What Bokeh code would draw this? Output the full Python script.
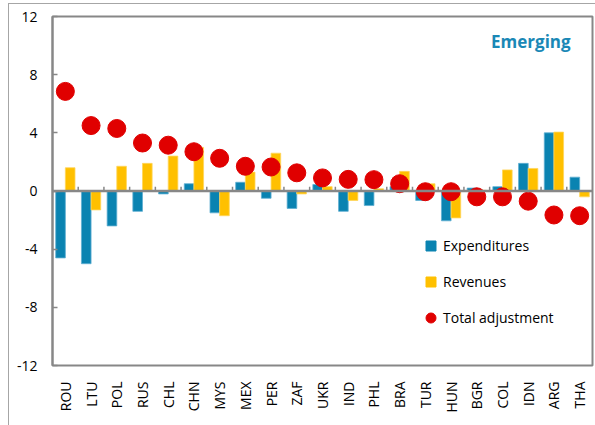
import math
from bokeh.plotting import figure
from bokeh.models import (ColumnDataSource, Span, Label, Legend, LegendItem,
                          FixedTicker, Range1d)
from bokeh.embed import file_html
from bokeh.resources import INLINE

categories = ["ROU", "LTU", "POL", "RUS", "CHL", "CHN", "MYS", "MEX", "PER", "ZAF",
              "UKR", "IND", "PHL", "BRA", "TUR", "HUN", "BGR", "COL", "IDN", "ARG", "THA"]
expenditures = [-4.6, -5.0, -2.4, -1.4, -0.2, 0.5, -1.5, 0.6, -0.5, -1.2,
                0.45, -1.4, -1.0, 0.3, -0.65, -2.05, 0.2, 0.3, 1.9, 4.0, 0.95]
revenues = [1.6, -1.3, 1.7, 1.9, 2.4, 3.0, -1.7, 1.3, 2.6, -0.2,
            0.3, -0.65, 0.15, 1.35, 0.5, -1.85, 0.05, 1.45, 1.55, 4.05, -0.4]
total_adjustment = [6.85, 4.5, 4.3, 3.3, 3.15, 2.7, 2.25, 1.7, 1.65, 1.25,
                    0.9, 0.8, 0.78, 0.5, -0.05, -0.05, -0.4, -0.4, -0.7, -1.65, -1.7]
y_ticks = [-12, -8, -4, 0, 4, 8, 12]
panel_title = "Emerging"

BLUE = "#0A83B1"
YELLOW = "#FFC000"
RED = "#E00000"
GRAY = "#878787"
FONT = "Open Sans"
NAN = float("nan")

n = len(categories)
idx = list(range(n))
bw = 0.375
src = ColumnDataSource(dict(
    x=idx,
    xe=[i - bw / 2 for i in idx],
    xr=[i + bw / 2 for i in idx],
    exp=expenditures, rev=revenues, tot=total_adjustment,
))

p = figure(width=595, height=425, output_backend="svg", toolbar_location=None,
           x_range=Range1d(-0.5, n - 0.5), y_range=Range1d(y_ticks[0], y_ticks[-1]),
           min_border_left=52, min_border_right=3, min_border_top=16, min_border_bottom=60)
p.background_fill_color = "white"
p.border_fill_color = None
# thin outer chart border (left and top edges)
p.styles = {"background-color": "white",
            "box-shadow": "inset 8px 3px 0 0 white, inset 9px 4px 0 0 #A6A6A6"}
p.outline_line_color = GRAY
p.outline_line_width = 2
p.xgrid.visible = False
p.ygrid.visible = False

# y axis
p.yaxis.ticker = FixedTicker(ticks=y_ticks)
p.yaxis.major_label_overrides = {t: str(t) for t in y_ticks}
p.yaxis.axis_line_color = GRAY
p.yaxis.axis_line_width = 2
p.yaxis.major_tick_in = 5
p.yaxis.major_tick_out = 0
p.yaxis.major_tick_line_color = GRAY
p.yaxis.major_tick_line_width = 1.5
p.yaxis.minor_tick_line_color = None
p.yaxis.major_label_standoff = 15
p.yaxis.major_label_text_font = FONT
p.yaxis.major_label_text_font_size = "14px"
p.yaxis.major_label_text_color = "black"

# x axis (labels only)
p.xaxis.ticker = FixedTicker(ticks=idx)
p.xaxis.major_label_overrides = {i: c for i, c in enumerate(categories)}
p.xaxis.major_label_orientation = math.pi / 2
p.xaxis.axis_line_color = None
p.xaxis.major_tick_line_color = None
p.xaxis.minor_tick_line_color = None
p.xaxis.major_label_standoff = 10
p.xaxis.major_label_text_font = FONT
p.xaxis.major_label_text_font_size = "14px"
p.xaxis.major_label_text_color = "black"

# bars
r_exp = p.vbar(x="xe", top="exp", bottom=0, width=bw, source=src,
               fill_color=BLUE, line_color="#5FAFD2", line_width=0.8)
r_rev = p.vbar(x="xr", top="rev", bottom=0, width=bw, source=src,
               fill_color=YELLOW, line_color="#FFD65C", line_width=0.8)

# zero line with category-boundary ticks
p.add_layout(Span(location=0, dimension="width", line_color=GRAY, line_width=2.5))
bx = [i + 0.5 for i in idx[:-1]]
p.segment(x0=bx, y0=[0] * len(bx), x1=bx, y1=[0.3] * len(bx),
          line_color=GRAY, line_width=1.5)

# dots
r_tot = p.scatter(x="x", y="tot", source=src, size=18, marker="circle",
                  fill_color=RED, line_color=RED)

# legend-only renderers (not drawn in the plot area)
lg_exp = p.scatter(x=[NAN], y=[NAN], marker="square", size=10, fill_color=BLUE, line_color=BLUE)
lg_rev = p.scatter(x=[NAN], y=[NAN], marker="square", size=10, fill_color=YELLOW, line_color=YELLOW)
lg_tot = p.scatter(x=[NAN], y=[NAN], marker="circle", size=10, fill_color=RED, line_color=RED)

legend = Legend(items=[
    LegendItem(label="Expenditures", renderers=[lg_exp]),
    LegendItem(label="Revenues", renderers=[lg_rev]),
    LegendItem(label="Total adjustment", renderers=[lg_tot]),
], location=(366, 35))
legend.glyph_width = 25
legend.glyph_height = 25
legend.label_height = 25
legend.spacing = 11
legend.padding = 0
legend.margin = 0
legend.label_standoff = -7
legend.border_line_color = None
legend.background_fill_alpha = 0
legend.label_text_font = FONT
legend.label_text_font_size = "14px"
legend.label_text_color = "black"
p.add_layout(legend)

p.add_layout(Label(x=n - 1.35, y=10.25, text=panel_title, text_align="right",
                   text_baseline="middle", text_font=FONT, text_font_style="bold",
                   text_font_size="17px", text_color="#1A88B6"))

open("out.html", "w").write(file_html(p, INLINE))
